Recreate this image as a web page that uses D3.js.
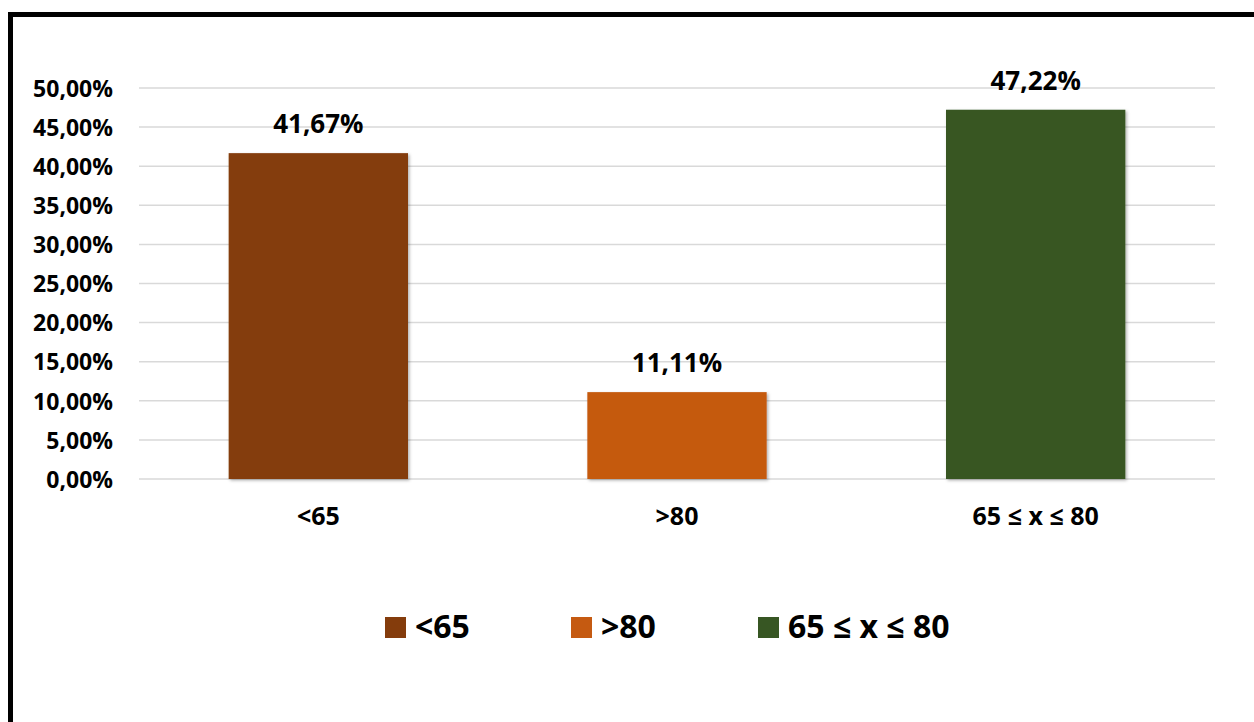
<!DOCTYPE html>
<html>
<head>
<meta charset="utf-8">
<script src="https://cdn.jsdelivr.net/npm/d3@7"></script>
<style>
  body { margin: 0; background: #fff; }
  text { font-family: "Open Sans", "Noto Sans", sans-serif; font-weight: 700; fill: #000; }
</style>
</head>
<body>
<div id="chart_div"></div>
<script>
// data
const categories = ["<65", ">80", "65 \u2264 x \u2264 80"];
const values = [41.67, 11.11, 47.22];
const colors = ["#843C0C", "#C55A11", "#375623"];
const yTicks = [0, 5, 10, 15, 20, 25, 30, 35, 40, 45, 50];

const W = 1254, H = 722;
const margin = { top: 88, right: 39, bottom: 243, left: 139 },
  width = W - margin.left - margin.right,
  height = H - margin.top - margin.bottom;

const fmt = v => v.toFixed(2).replace(".", ",") + "%";

const root = d3.select("#chart_div")
  .append("svg")
  .attr("width", W)
  .attr("height", H)
  .attr("viewBox", `0 0 ${W} ${H}`);

// soft shadow for the bars
const filter = root.append("defs").append("filter")
  .attr("id", "shadow")
  .attr("x", "-10%").attr("y", "-10%")
  .attr("width", "130%").attr("height", "130%");
filter.append("feDropShadow")
  .attr("dx", 1.5).attr("dy", 1.5)
  .attr("stdDeviation", 1.5)
  .attr("flood-color", "#000")
  .attr("flood-opacity", 0.3);

// outer frame (runs off the right and bottom edges)
root.append("rect")
  .attr("x", 10.5).attr("y", 14.5)
  .attr("width", W + 40).attr("height", H + 40)
  .attr("fill", "none")
  .attr("stroke", "#000")
  .attr("stroke-width", 5);

const svg = root.append("g")
  .attr("transform", `translate(${margin.left},${margin.top})`);

const x = d3.scaleBand()
  .domain(categories)
  .range([0, width])
  .paddingInner(0.5)
  .paddingOuter(0.25);

const y = d3.scaleLinear()
  .domain([0, 50])
  .range([height, 0]);

// gridlines
svg.append("g")
  .selectAll("line")
  .data(yTicks)
  .enter()
  .append("line")
  .attr("x1", 0)
  .attr("x2", width)
  .attr("y1", d => y(d))
  .attr("y2", d => y(d))
  .attr("stroke", "#d9d9d9")
  .attr("stroke-width", 1.5);

// y axis labels
const yAxis = svg.append("g")
  .call(d3.axisLeft(y).tickValues(yTicks).tickSize(0).tickPadding(26).tickFormat(d => fmt(d)));
yAxis.select(".domain").remove();
yAxis.selectAll("text")
  .style("font-size", "23px")
  .attr("dy", "0.36em");

// bars
svg.selectAll(".bar")
  .data(values)
  .enter()
  .append("rect")
  .attr("class", "bar")
  .attr("x", (d, i) => x(categories[i]))
  .attr("y", d => y(d))
  .attr("width", x.bandwidth())
  .attr("height", d => height - y(d))
  .attr("fill", (d, i) => colors[i])
  .attr("filter", "url(#shadow)");

// value labels
svg.selectAll(".value-label")
  .data(values)
  .enter()
  .append("text")
  .attr("class", "value-label")
  .attr("x", (d, i) => x(categories[i]) + x.bandwidth() / 2)
  .attr("y", d => y(d) - 20)
  .attr("text-anchor", "middle")
  .style("font-size", "26px")
  .text(d => fmt(d));

// x axis labels
const xAxis = svg.append("g")
  .attr("transform", `translate(0, ${height})`)
  .call(d3.axisBottom(x).tickSize(0));
xAxis.select(".domain").remove();
xAxis.selectAll("text")
  .attr("y", 46)
  .attr("dy", 0)
  .style("font-size", "25px");

// legend
const legend = root.append("g").attr("transform", "translate(385, 617)");
const legendX = [0, 186, 373];
const size = 21;
legend.selectAll(".legend-rect")
  .data(categories)
  .enter()
  .append("rect")
  .attr("class", "legend-rect")
  .attr("x", (d, i) => legendX[i])
  .attr("y", 0)
  .attr("width", size)
  .attr("height", size)
  .attr("fill", (d, i) => colors[i]);
legend.selectAll(".legend-text")
  .data(categories)
  .enter()
  .append("text")
  .attr("class", "legend-text")
  .attr("x", (d, i) => legendX[i] + size + 9)
  .attr("y", 21)
  .style("font-size", "32px")
  .text(d => d);
</script>
</body>
</html>
